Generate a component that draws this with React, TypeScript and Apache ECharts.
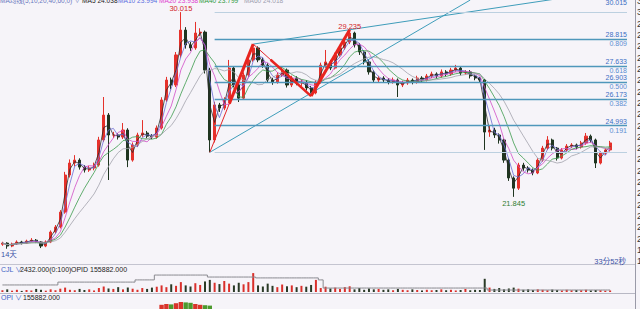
import React, { useEffect, useRef } from 'react';
import * as echarts from 'echarts';

const categories: string[] = Array.from({ length: 130 }, (_, i) => 'K' + (i + 1));

const openPrices = [19.75,19.80,19.67,19.76,19.85,19.80,19.89,19.93,19.85,19.67,
 19.85,20.29,20.51,21.17,22.81,23.34,23.47,23.16,23.03,23.12,
 23.25,24.36,25.46,24.58,24.58,24.49,24.80,23.47,24.14,24.58,
 24.67,24.53,24.49,24.89,26.13,27.01,26.79,28.12,29.22,28.56,
 28.43,29.09,29.13,27.45,24.36,25.91,25.77,26.13,27.54,26.79,
 26.21,27.23,27.90,28.43,27.90,27.67,27.01,26.92,27.23,27.45,
 26.79,27.10,26.88,26.92,26.66,26.44,26.92,27.67,27.81,27.54,
 28.12,28.43,28.69,29.09,28.56,28.25,27.81,27.37,27.01,27.10,
 27.01,26.92,27.01,26.79,26.88,27.01,26.92,27.10,27.01,27.19,
 27.28,27.19,27.37,27.28,27.45,27.54,27.32,27.37,27.19,27.10,
 27.01,24.71,24.80,24.58,24.36,23.47,22.68,22.23,23.25,23.12,
 23.03,22.90,23.47,24.00,24.36,24.00,23.56,23.92,24.09,24.14,
 24.05,24.23,24.53,24.36,23.34,23.78,23.92];

const closePrices = [19.80,19.67,19.76,19.85,19.80,19.89,19.93,19.85,19.67,19.85,
 20.29,20.51,21.17,22.81,23.34,23.47,23.16,23.03,23.12,23.25,
 24.36,25.46,24.58,24.58,24.49,24.80,23.47,24.14,24.58,24.67,
 24.53,24.49,24.89,26.13,27.01,26.79,28.12,29.22,28.56,28.43,
 29.09,29.13,27.45,24.36,25.91,25.77,26.13,27.54,26.79,26.21,
 27.23,27.90,28.43,27.90,27.67,27.01,26.92,27.23,27.45,26.79,
 27.10,26.88,26.92,26.66,26.44,26.92,27.67,27.81,27.54,28.12,
 28.43,28.69,29.09,28.56,28.25,27.81,27.37,27.01,27.10,27.01,
 26.92,27.01,26.79,26.88,27.01,26.92,27.10,27.01,27.19,27.28,
 27.19,27.37,27.28,27.45,27.54,27.32,27.37,27.19,27.10,27.01,
 24.71,24.80,24.58,24.36,23.47,22.68,22.23,23.25,23.12,23.03,
 22.90,23.47,24.00,24.36,24.00,23.56,23.92,24.09,24.14,24.05,
 24.23,24.53,24.36,23.34,23.78,23.92,24.23];

const lowPrices = [19.68,19.55,19.62,19.72,19.74,19.76,19.84,19.80,19.58,19.62,
 19.80,20.22,20.45,21.10,22.70,23.20,23.05,22.92,22.95,23.02,
 23.18,24.28,22.59,24.45,24.38,24.40,23.16,23.40,24.05,24.50,
 24.44,24.40,24.42,24.82,26.05,26.60,26.70,28.00,28.40,28.30,
 28.35,28.95,27.30,23.815,24.25,25.60,25.68,26.05,26.70,26.04,
 26.15,27.15,27.82,27.80,27.55,26.90,26.80,26.85,27.15,26.68,
 26.70,26.78,26.75,26.55,26.30,26.38,26.85,27.55,27.45,27.48,
 28.05,28.35,28.60,28.45,28.12,27.70,27.25,26.90,26.92,26.90,
 26.82,26.85,26.26,26.70,26.80,26.82,26.85,26.92,26.95,27.10,
 27.08,27.12,27.18,27.20,27.38,27.22,27.25,27.08,27.00,26.90,
 23.92,24.50,24.45,24.20,23.35,22.55,21.845,22.15,23.00,22.92,
 22.80,22.85,23.40,23.92,23.90,23.45,23.50,23.85,24.00,23.95,
 23.98,24.15,24.25,23.12,23.28,23.70,23.85];

const highPrices = [19.86,19.84,19.82,19.92,19.90,19.95,20.02,19.98,19.88,19.92,
 20.36,20.60,21.26,22.95,23.50,23.69,23.55,23.25,23.22,23.36,
 24.50,26.26,25.55,24.72,24.66,25.11,24.88,24.25,24.68,25.24,
 24.76,24.62,25.00,26.25,27.15,27.12,28.25,30.015,29.35,28.70,
 29.58,29.30,29.20,27.55,26.05,26.00,26.25,27.90,27.62,26.88,
 27.35,28.00,28.60,28.50,28.00,27.75,27.10,27.35,27.58,27.52,
 27.20,27.18,27.02,27.00,26.75,27.00,27.78,28.34,27.90,28.22,
 28.55,28.80,29.235,29.15,28.65,28.32,27.90,27.45,27.20,27.18,
 27.10,27.12,27.08,26.98,27.10,27.08,27.20,27.18,27.28,27.38,
 27.35,27.48,27.45,27.55,27.68,27.60,27.45,27.45,27.25,27.15,
 27.05,25.00,24.90,24.65,24.42,23.55,22.75,23.35,23.35,23.20,
 23.10,23.55,24.10,24.53,24.42,24.05,24.00,24.18,24.22,24.20,
 24.32,24.67,24.60,24.42,23.85,24.00,24.32];

const volumes = [8,12,6,10,5,9,7,14,10,6,
 12,8,15,20,10,8,14,9,12,7,
 18,25,16,14,22,12,20,15,10,18,
 14,20,24,30,22,35,28,45,30,25,
 40,32,48,55,42,36,50,38,30,42,
 35,45,86,30,25,38,28,22,34,26,
 30,22,28,24,32,55,18,24,16,20,
 14,22,26,12,18,10,16,12,14,10,
 12,8,14,10,8,12,9,7,10,8,
 9,12,8,10,7,9,14,8,10,9,
 60,20,14,18,12,16,20,15,10,12,
 9,12,10,8,11,9,7,10,8,9,
 8,10,7,9,8,6,7];

const opidLine = [32,32,32,32,32,32,32,32,32,32,
 32,32,45,45,45,45,45,45,45,45,
 45,45,45,45,45,45,45,45,55,55,
 55,55,77,77,77,77,77,77,77,77,
 77,77,77,68,68,68,68,68,68,68,
 68,68,68,64,64,64,64,64,64,64,
 64,64,64,64,64,64,55,18,18,18,
 18,18,18,18,18,18,18,18,18,18,
 18,18,18,18,18,18,18,18,18,18,
 18,18,18,18,18,18,18,18,18,18,
 18,9,9,9,9,9,9,9,9,9,
 9,9,9,9,9,9,9,9,9,9,
 9,9,9,9,9,9,9];

const opiStart = 33;
const opiValues = [88, 90, 89, 92, 95, 94, 93, 90, 88, 87, 86];

// MA legend names from the reference; windows are scaled to this coarser bar count
const maNames = ['MA5', 'MA10', 'MA20', 'MA40', 'MA60'];
const maLegendValues = ['24.038', '23.994', '23.938', '23.799', '24.018'];
const maWindows = [2, 3, 5, 8, 12];
const maColors = ['#2b2b2b', '#6c6cd6', '#d24ec6', '#3b9a4b', '#a2a2ac'];

const fibPrices = [30.015, 28.815, 27.633, 26.903, 26.173, 24.993, 23.815];
const fibRatios = ['', '0.809', '0.618', '0.500', '0.382', '0.191', ''];
const fibStartIdx = 44;

const zigzagIdx = [43, 52, 64, 72];
const zigzagPrice = [23.815, 28.60, 26.30, 29.235];
const trendA = [[43, 23.815], [97, 30.55]];
const trendB = [[52, 28.60], [130, 31.08]];

const extremes = [
  { idx: 37, price: 30.015, text: '30.015', up: true },
  { idx: 72, price: 29.235, text: '29.235', up: true },
  { idx: 106, price: 21.845, text: '21.845', up: false },
];

const UP = '#e5312b';
const DOWN = '#1f3520';
const FONT = '"Liberation Sans", "Noto Sans CJK SC", sans-serif';

function movingAvg(n: number) {
  return closePrices.map((_, i) => {
    const s = Math.max(0, i - n + 1);
    let sum = 0;
    for (let k = s; k <= i; k++) sum += closePrices[k];
    return +(sum / (i - s + 1)).toFixed(3);
  });
}

function lerpPt(a: number, b: number, t: number) {
  return [
    zigzagIdx[a] + (zigzagIdx[b] - zigzagIdx[a]) * t,
    zigzagPrice[a] + (zigzagPrice[b] - zigzagPrice[a]) * t,
  ];
}

export default function App() {
  const ref = useRef<HTMLDivElement>(null);
  useEffect(() => {
    if (!ref.current) return;
    const chart = echarts.init(ref.current, undefined, { renderer: 'svg' });
    const isUp = (i: number) => closePrices[i] >= openPrices[i];
    const candleData = openPrices.map((o, i) => [o, closePrices[i], lowPrices[i], highPrices[i]]);

    const fibMark: any[] = [];
    fibPrices.forEach((p, k) => {
      const edge = k === 0 || k === fibPrices.length - 1;
      fibMark.push([
        {
          coord: [fibStartIdx, p],
          lineStyle: { color: edge ? '#bcd0e0' : '#4f97bb', width: edge ? 1 : 1.3, type: 'solid' },
          label: {
            show: k !== fibPrices.length - 1,
            formatter: String(p.toFixed(3)),
            position: 'insideEndTop',
            distance: k === 0 ? [0, 6] : [0, 1],
            color: '#3c6fc4',
            fontSize: 7,
            fontFamily: FONT,
          },
        },
        { coord: [129.5, p] },
      ]);
    });
    const ratioMark: any[] = [];
    fibPrices.forEach((p, k) => {
      if (!fibRatios[k]) return;
      ratioMark.push([
        {
          coord: [fibStartIdx, p],
          lineStyle: { color: 'rgba(255,255,255,0)', width: 1 },
          label: {
            show: true,
            formatter: fibRatios[k],
            position: 'insideEndBottom',
            distance: [0, 1],
            color: '#5b8dd2',
            fontSize: 7,
            fontFamily: FONT,
          },
        },
        { coord: [129.5, p] },
      ]);
    });

    const zigzagData = zigzagIdx.map((x, i) => [x, zigzagPrice[i]]);
    const thick: any[] = [
      { seg: [lerpPt(0, 1, 0.45), lerpPt(0, 1, 1)], w: 3 },
      { seg: [lerpPt(1, 2, 0.3), lerpPt(1, 2, 1)], w: 2.5 },
      { seg: [lerpPt(2, 3, 0), lerpPt(2, 3, 1)], w: 3 },
    ];

    const series: any[] = [
      {
        type: 'candlestick',
        xAxisIndex: 0,
        yAxisIndex: 0,
        data: candleData,
        barWidth: 2.6,
        itemStyle: { color: UP, color0: DOWN, borderColor: UP, borderColor0: DOWN, borderWidth: 1 },
        markPoint: {
          symbol: 'circle',
          symbolSize: 0,
          silent: true,
          data: extremes.map((e) => ({
            coord: [categories[e.idx], e.price],
            label: {
              show: true,
              formatter: e.text,
              position: e.up ? 'top' : 'bottom',
              distance: e.up ? 0 : 3,
              color: e.up ? '#d3262a' : '#2f7d2f',
              fontSize: 7.5,
              fontFamily: FONT,
            },
          })),
        },
      },
      ...maWindows.map((n, k) => ({
        type: 'line',
        name: maNames[k],
        xAxisIndex: 0,
        yAxisIndex: 0,
        data: movingAvg(n),
        symbol: 'none',
        lineStyle: { color: maColors[k], width: 0.8 },
        z: 3,
      })),
      {
        type: 'line',
        xAxisIndex: 1,
        yAxisIndex: 0,
        data: trendA,
        symbol: 'none',
        lineStyle: { color: '#3f9dba', width: 1 },
        clip: true,
        z: 4,
        markLine: { symbol: 'none', silent: true, data: fibMark },
      },
      {
        type: 'line',
        xAxisIndex: 1,
        yAxisIndex: 0,
        data: trendB,
        symbol: 'none',
        lineStyle: { color: '#3f9dba', width: 1 },
        clip: true,
        z: 4,
        markLine: { symbol: 'none', silent: true, data: ratioMark },
      },
      {
        type: 'line',
        xAxisIndex: 1,
        yAxisIndex: 0,
        data: zigzagData,
        symbol: 'none',
        lineStyle: { color: '#e3262a', width: 1 },
        z: 5,
      },
      ...thick.map((t) => ({
        type: 'line',
        xAxisIndex: 1,
        yAxisIndex: 0,
        data: t.seg,
        symbol: 'none',
        lineStyle: { color: '#e8241f', width: t.w },
        z: 5,
      })),
      {
        type: 'bar',
        xAxisIndex: 2,
        yAxisIndex: 1,
        data: volumes,
        barWidth: 2,
        itemStyle: { color: (p: any) => (isUp(p.dataIndex) ? '#d9302b' : '#2a3a26') },
      },
      {
        type: 'line',
        xAxisIndex: 2,
        yAxisIndex: 1,
        data: opidLine,
        step: 'middle',
        symbol: 'none',
        lineStyle: { color: '#8a8a90', width: 1 },
      },
      {
        type: 'bar',
        xAxisIndex: 3,
        yAxisIndex: 2,
        data: closePrices.map((_, i) =>
          i >= opiStart && i < opiStart + opiValues.length ? opiValues[i - opiStart] : '-'
        ),
        barWidth: 4.4,
        itemStyle: { color: (p: any) => (isUp(p.dataIndex) ? '#d9342b' : '#4c9a2e') },
      },
    ];

    const hidden = { show: false };
    const gridBase = { left: 0, right: 13, outerBoundsMode: 'none', containLabel: false };
    const legendX = [82, 118, 159, 199, 244];
    const legendColors = ['#222', '#5a6ee0', '#e040d0', '#2f9a3f', '#a0a0b0'];
    const txt = (x: number, y: number, text: string, fill: string, size: number, align = 'left') => ({
      type: 'text',
      x,
      y,
      silent: true,
      style: { text, fill, fontSize: size, fontFamily: FONT, align, verticalAlign: 'middle' },
    });
    const option: any = {
      animation: false,
      backgroundColor: '#f6f4f9',
      textStyle: { fontFamily: FONT },
      grid: [
        { ...gridBase, top: 0, height: 263 },
        { ...gridBase, top: 270, height: 22 },
        { ...gridBase, top: 300, height: 40 },
      ],
      xAxis: [
        { type: 'category', gridIndex: 0, data: categories, boundaryGap: true, ...hidden },
        { type: 'value', gridIndex: 0, min: -0.5, max: 129.5, ...hidden },
        { type: 'category', gridIndex: 1, data: categories, boundaryGap: true, ...hidden },
        { type: 'category', gridIndex: 2, data: categories, boundaryGap: true, ...hidden },
      ],
      yAxis: [
        {
          type: 'value',
          gridIndex: 0,
          min: 18.92,
          max: 30.55,
          splitNumber: 22,
          position: 'right',
          offset: 8,
          axisLine: { show: false },
          axisTick: { show: false },
          splitLine: { show: false },
          axisLabel: { margin: 2, fontSize: 9, color: '#333', formatter: (v: number) => v.toFixed(3) },
        },
        { type: 'value', gridIndex: 1, min: 0, max: 100, ...hidden },
        { type: 'value', gridIndex: 2, min: 0, max: 100, ...hidden },
      ],
      series,
      graphic: [
        { type: 'line', silent: true, shape: { x1: 635.5, y1: 0, x2: 635.5, y2: 309 }, style: { stroke: '#9a9aa8', lineWidth: 1 } },
        { type: 'line', silent: true, shape: { x1: 0, y1: 264.5, x2: 635, y2: 264.5 }, style: { stroke: '#c4c4d0', lineWidth: 1 } },
        { type: 'line', silent: true, shape: { x1: 0, y1: 293.5, x2: 635, y2: 293.5 }, style: { stroke: '#b8b8c4', lineWidth: 1 } },
        txt(0, 0.5, 'MA均线(5,10,20,40,60,0) ∨', '#6a78c0', 6.5),
        ...maNames.map((n, k) => txt(legendX[k], 0.5, n + ' ' + maLegendValues[k], legendColors[k], 6.6)),
        txt(1, 254, '14天', '#3a52a6', 7.5),
        txt(626, 261, '33分52秒', '#3a52a6', 7.5, 'right'),
        txt(1, 269, 'CJL ∨', '#3a62c4', 7),
        txt(20, 269, '2432.000(0:100)', '#222', 7),
        txt(71, 269, 'OPID 155882.000', '#222', 7),
        txt(1, 297.5, 'OPI ∨', '#3a62c4', 7),
        txt(23, 297.5, '155882.000', '#222', 7),
      ],
    };
    chart.setOption(option);
    return () => chart.dispose();
  }, []);
  return <div ref={ref} style={{ position: 'fixed', left: 0, top: 0, width: 640, height: 309 }} />;
}
